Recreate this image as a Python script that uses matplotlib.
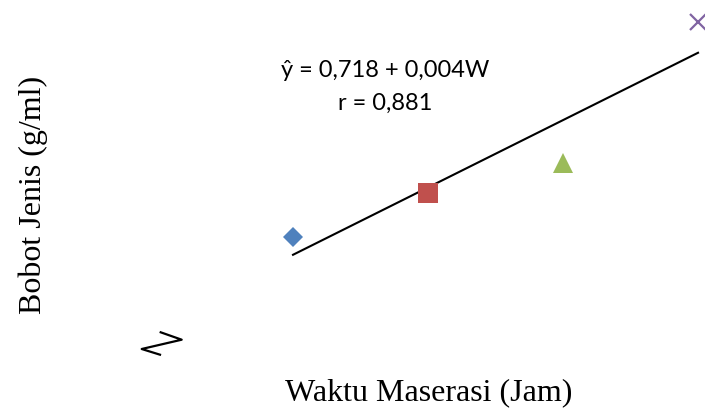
import numpy as np
import matplotlib.pyplot as plt
from matplotlib.lines import Line2D

# ---- data ----
waktu = [24, 48, 72, 96]                     # waktu maserasi [jam]
bobot = [0.840, 0.902, 0.945, 1.145]         # bobot jenis [g/ml]
markers = ["D", "s", "^", "x"]
colors = ["#4F81BD", "#C0504D", "#9BBB59", "#8064A2"]
sizes = [9.8, 14, 14.5, 11]

eq_text = "\u0177 = 0,718 + 0,004W"
r_text = "r = 0,881"

# linear trend line from the points
slope, intercept = np.polyfit(waktu, bobot, 1)
x_fit = np.array([waktu[0], waktu[-1]])
y_fit = intercept + slope * x_fit

fig = plt.figure(figsize=(7.05, 4.10), dpi=100)
ax = fig.add_axes([0, 0, 1, 1])
ax.set_xlim(-28.09, 97.24)
ax.set_ylim(0.5949, 1.1782)
ax.axis("off")

ax.plot(x_fit, y_fit, color="black", lw=1.5, zorder=2)
for x, y, m, c, s in zip(waktu, bobot, markers, colors, sizes):
    ax.plot(x, y, marker=m, color=c, ms=s, mew=1.6 if m == "x" else 0,
            ls="none", clip_on=False, zorder=3)

# regression annotation
fig.text(0.546, 0.812, eq_text, family="Lato", fontsize=17,
         ha="center", va="baseline")
fig.text(0.546, 0.732, r_text, family="Lato", fontsize=17,
         ha="center", va="baseline")

# axis titles (axes themselves are hidden)
fig.text(0.608, 0.025, "Waktu Maserasi (Jam)", family="Liberation Serif",
         fontsize=23, ha="center", va="baseline")
fig.text(0.047, 0.524, "Bobot Jenis (g/ml)", family="Liberation Serif",
         fontsize=23, rotation=90, ha="center", va="center")

# axis break mark
bx = np.array([160.7, 181.7, 141.7, 160.0]) / 705
by = 1 - np.array([333.3, 340.7, 350.0, 355.7]) / 410
fig.add_artist(Line2D(bx, by, color="black", lw=1.6,
                      transform=fig.transFigure))

fig.savefig("out.png", dpi=100)
